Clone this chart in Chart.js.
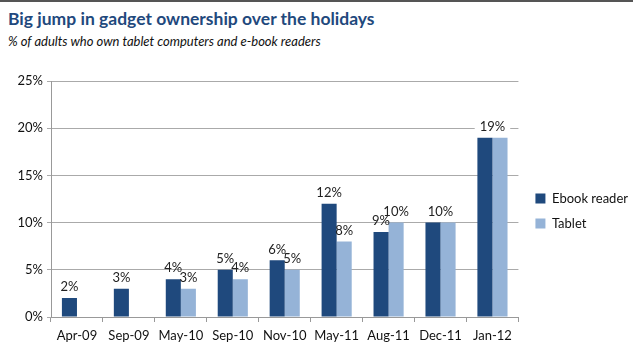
<!DOCTYPE html>
<html>
<head>
<meta charset="utf-8">
<script src="https://cdn.jsdelivr.net/npm/chart.js@4.4.0/dist/chart.umd.min.js"></script>
<style>
  html, body { margin: 0; padding: 0; background: #fff; }
  #wrap { position: relative; width: 640px; height: 349px; overflow: hidden; }
  #topline { position: absolute; left: 0; top: 0; width: 633px; height: 2px; background: #555; }
  #title { position: absolute; left: 8px; top: 8px; font: bold 17.5px Lato, sans-serif; color: #1f497d; white-space: nowrap; }
  #subtitle { position: absolute; left: 8px; top: 33px; font: italic 13px Lato, sans-serif; color: #111; white-space: nowrap; }
  canvas { position: absolute; left: 0; top: 0; }
</style>
</head>
<body>
<div id="wrap">
  <div id="topline"></div>
  <div id="title">Big jump in gadget ownership over the holidays</div>
  <div id="subtitle">% of adults who own tablet computers and e-book readers</div>
  <canvas id="chart" width="640" height="349"></canvas>
</div>
<script>
// data
const categories = ['Apr-09', 'Sep-09', 'May-10', 'Sep-10', 'Nov-10', 'May-11', 'Aug-11', 'Dec-11', 'Jan-12'];
const ebookReader = [2, 3, 4, 5, 6, 12, 9, 10, 19];
const tablet = [null, null, 3, 4, 5, 8, 10, 10, 19];
const yTicks = [0, 5, 10, 15, 20, 25];

const navy = '#1f497d';
const lightBlue = '#95b3d7';
const fontFamily = 'Lato, sans-serif';

// value labels above the bars, one centred label when both bars are equal
const valueLabels = {
  id: 'valueLabels',
  afterDatasetsDraw(chart) {
    const ctx = chart.ctx;
    const m0 = chart.getDatasetMeta(0);
    const m1 = chart.getDatasetMeta(1);
    ctx.save();
    ctx.font = '13px ' + fontFamily;
    ctx.textAlign = 'center';
    ctx.textBaseline = 'middle';
    categories.forEach((c, i) => {
      const a = ebookReader[i], b = tablet[i];
      if (a != null && b != null && a === b) {
        const x = (m0.data[i].x + m1.data[i].x) / 2;
        const y = m0.data[i].y - 11;
        const txt = a + '%';
        const w = ctx.measureText(txt).width;
        ctx.fillStyle = '#fff';
        ctx.fillRect(x - w / 2 - 5, y - 8, w + 10, 16);
        ctx.fillStyle = '#222';
        ctx.fillText(txt, x, y);
        return;
      }
      [[m0, a], [m1, b]].forEach(([m, v]) => {
        if (v == null) return;
        ctx.fillStyle = '#222';
        ctx.fillText(v + '%', m.data[i].x, m.data[i].y - 11);
      });
    });
    ctx.restore();
  }
};

// nudge the legend a bit further from the plot
const legendShift = {
  id: 'legendShift',
  afterLayout(chart) {
    const l = chart.legend;
    l.left += 5; l.right += 5;
    l.top -= 4; l.bottom -= 4;
  }
};

new Chart(document.getElementById('chart'), {
  type: 'bar',
  data: {
    labels: categories,
    datasets: [
      { label: 'Ebook reader', data: ebookReader, backgroundColor: navy },
      { label: 'Tablet', data: tablet, backgroundColor: lightBlue }
    ]
  },
  options: {
    responsive: false,
    animation: false,
    datasets: { bar: { categoryPercentage: 0.58, barPercentage: 1.0 } },
    layout: { padding: { top: 81, right: 7, bottom: 0, left: 0 } },
    plugins: {
      legend: {
        position: 'right',
        labels: {
          boxWidth: 10, boxHeight: 10, padding: 12,
          color: '#111',
          font: { family: fontFamily, size: 13 }
        }
      },
      tooltip: { enabled: false }
    },
    scales: {
      x: {
        grid: { display: true, drawOnChartArea: false, color: '#999', tickLength: 5, offset: true },
        border: { color: '#999' },
        ticks: { color: '#111', font: { family: fontFamily, size: 13 }, padding: 6, maxRotation: 0 },
        afterFit(s) { s.height = 32; }
      },
      y: {
        min: 0, max: 25,
        afterBuildTicks(s) { s.ticks = yTicks.map(v => ({ value: v })); },
        grid: { color: '#aaa', tickLength: 4 },
        border: { color: '#999' },
        ticks: { color: '#111', font: { family: fontFamily, size: 13 }, padding: 4, callback: v => v + '%' },
        afterFit(s) { s.width = 51; }
      }
    }
  },
  plugins: [valueLabels, legendShift]
});
</script>
</body>
</html>
